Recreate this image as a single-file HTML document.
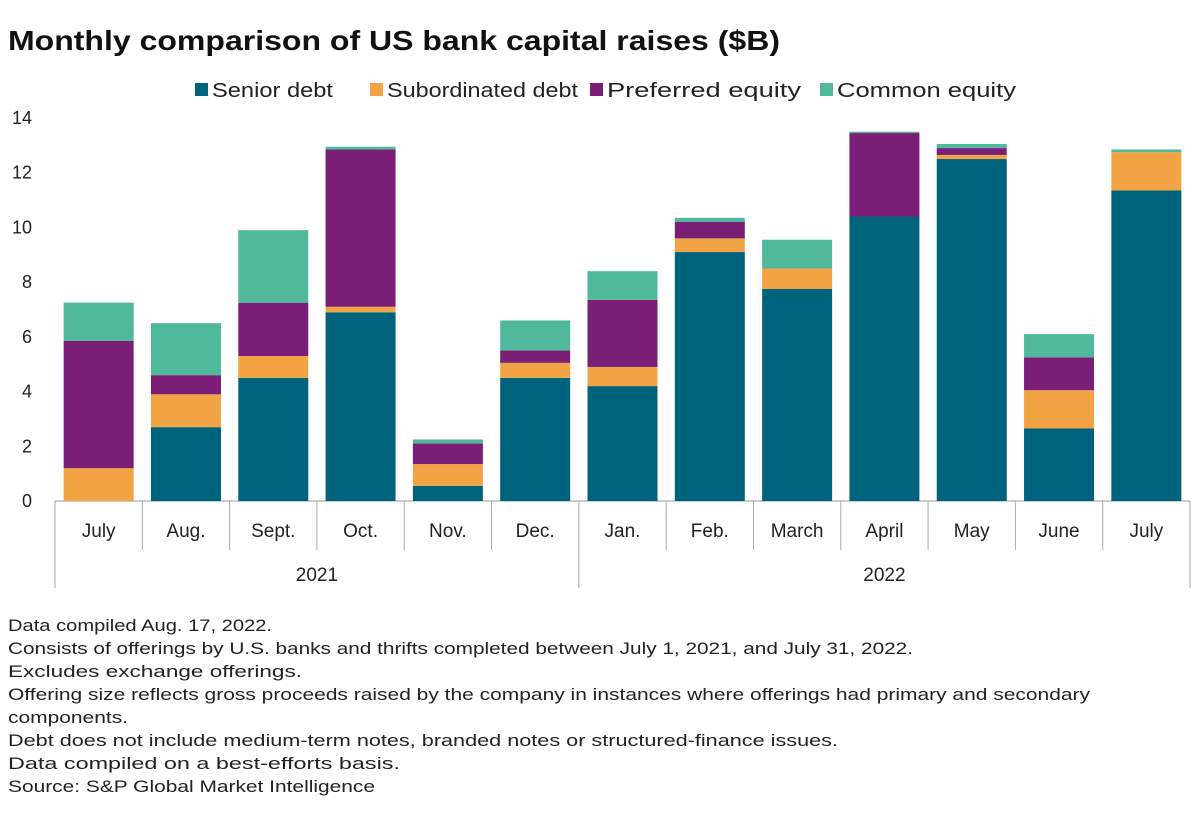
<!DOCTYPE html>
<html><head><meta charset="utf-8"><style>
body{margin:0;background:#fff;font-family:"Liberation Sans",sans-serif;}
svg text{font-family:"Liberation Sans",sans-serif;}
</style></head><body>
<svg id="chart" width="1200" height="821">
<text x="8" y="50" font-size="28" font-weight="bold" fill="#111" textLength="772" lengthAdjust="spacingAndGlyphs">Monthly comparison of US bank capital raises ($B)</text>
<g id="legend"></g>
<g id="axes"></g><g id="bars"></g>
<g font-size="17" fill="#222">
<text x="8" y="631" textLength="264" lengthAdjust="spacingAndGlyphs">Data compiled Aug. 17, 2022.</text>
<text x="8" y="654" textLength="905" lengthAdjust="spacingAndGlyphs">Consists of offerings by U.S. banks and thrifts completed between July 1, 2021, and July 31, 2022.</text>
<text x="8" y="677" textLength="294" lengthAdjust="spacingAndGlyphs">Excludes exchange offerings.</text>
<text x="8" y="700" textLength="1082" lengthAdjust="spacingAndGlyphs">Offering size reflects gross proceeds raised by the company in instances where offerings had primary and secondary</text>
<text x="8" y="723" textLength="120" lengthAdjust="spacingAndGlyphs">components.</text>
<text x="8" y="746" textLength="830" lengthAdjust="spacingAndGlyphs">Debt does not include medium-term notes, branded notes or structured-finance issues.</text>
<text x="8" y="769" textLength="392" lengthAdjust="spacingAndGlyphs">Data compiled on a best-efforts basis.</text>
<text x="8" y="792" textLength="367" lengthAdjust="spacingAndGlyphs">Source: S&amp;P Global Market Intelligence</text>
</g>
</svg>
<script>
const categories=["July","Aug.","Sept.","Oct.","Nov.","Dec.","Jan.","Feb.","March","April","May","June","July"];
const seniorDebt=[0,2.7,4.5,6.9,0.55,4.5,4.2,9.1,7.75,10.4,12.5,2.65,11.35];
const subordinatedDebt=[1.2,1.2,0.8,0.2,0.8,0.55,0.7,0.5,0.75,0,0.15,1.4,1.4];
const preferredEquity=[4.65,0.7,1.95,5.75,0.75,0.45,2.45,0.6,0,3.05,0.25,1.2,0];
const commonEquity=[1.4,1.9,2.65,0.1,0.15,1.1,1.05,0.15,1.05,0.05,0.15,0.85,0.1];
const yTicks=[0,2,4,6,8,10,12,14];
const years=[["2021",0,6],["2022",6,13]];
const seriesNames=["Senior debt","Subordinated debt","Preferred equity","Common equity"];
const colors=["#00637d","#f2a444","#7a1e78","#50b99b"];
const series=[seniorDebt,subordinatedDebt,preferredEquity,commonEquity];
const NS="http://www.w3.org/2000/svg";
const X0=55,X1=1190,Y0=501,Ytop=118,YMAX=14;
const bw=(X1-X0)/categories.length;
const y=v=>Y0-(v/YMAX)*(Y0-Ytop);
const xc=i=>X0+bw*(i+0.5);
function mk(t,a,p){const e=document.createElementNS(NS,t);for(const k in a)e.setAttribute(k,a[k]);p.appendChild(e);return e;}
const axes=document.getElementById('axes'),bars=document.getElementById('bars'),leg=document.getElementById('legend');
yTicks.forEach(t=>{const e=mk('text',{x:32,y:y(t)+6,'text-anchor':'end','font-size':18,fill:'#222'},axes);e.textContent=t;

});
const ax=mk('line',{x1:X0,x2:X1,y1:Y0,y2:Y0,stroke:'#999'},axes);


for(let i=0;i<=categories.length;i++){const big=(i==0||i==6||i==categories.length);
mk('line',{x1:X0+bw*i,x2:X0+bw*i,y1:Y0,y2:big?588:550,stroke:'#aaa'},axes);}
categories.forEach((c,i)=>{const e=mk('text',{x:xc(i),y:537,'text-anchor':'middle','font-size':19,fill:'#222'},axes);e.textContent=c;

});
years.forEach(([n,a,b])=>{const e=mk('text',{x:X0+bw*(a+b)/2,y:581,'text-anchor':'middle','font-size':19,fill:'#222'},axes);e.textContent=n;

});
categories.forEach((c,i)=>{let acc=0;series.forEach((s,k)=>{const v=s[i];if(v>0){const r=mk('rect',{x:xc(i)-35,width:70,y:y(acc+v),height:y(acc)-y(acc+v),fill:colors[k]},bars);

}acc+=v;});});
const lx=[195,370,590,820];
const lw=[121,191,194,179];
seriesNames.forEach((n,k)=>{const g=mk('g',{},leg);


mk('rect',{x:lx[k],y:83,width:13,height:13,fill:colors[k]},g);
const t=mk('text',{x:lx[k]+17,y:97,'font-size':20,fill:'#222',textLength:lw[k],lengthAdjust:'spacingAndGlyphs'},g);t.textContent=n;});
</script>
</body></html>
